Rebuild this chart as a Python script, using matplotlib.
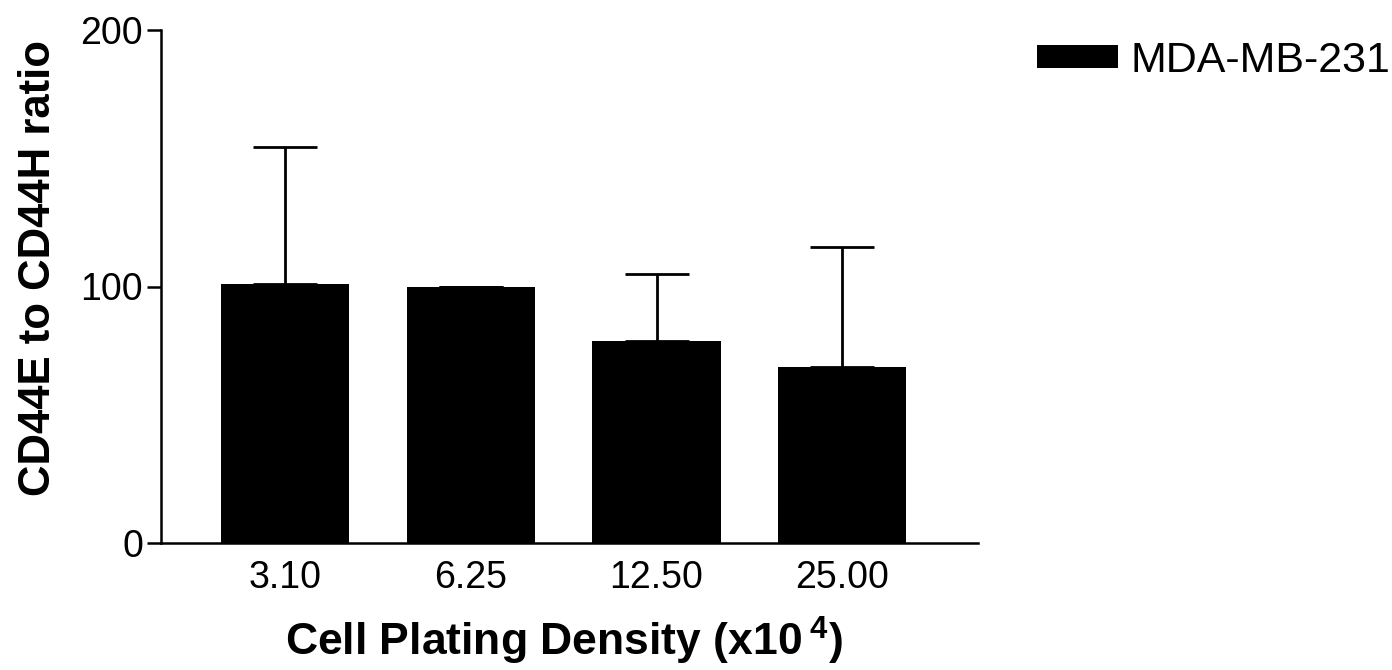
import matplotlib
matplotlib.use("Agg")
import matplotlib.pyplot as plt
import numpy as np

categories = ["3.10", "6.25", "12.50", "25.00"]
means = [100.8, 100.0, 78.8, 68.5]
errors_up = [53.5, 0.0, 26.0, 47.0]
series_name = "MDA-MB-231"

plt.rcParams['font.family'] = ['Liberation Sans', 'DejaVu Sans']
plt.rcParams['mathtext.fontset'] = 'custom'
plt.rcParams['mathtext.rm'] = 'Liberation Sans'
plt.rcParams['mathtext.bf'] = 'Liberation Sans:bold'

fig = plt.figure(figsize=(13.92, 6.70), dpi=100)
ax = fig.add_axes([161/1392, 1 - 543/670, (978 - 161)/1392, (543 - 30)/670])

x = np.arange(len(categories))
yerr = np.array([np.zeros(len(errors_up)), errors_up])
ax.bar(x, means, width=0.69, color='black', label=series_name,
       yerr=yerr, error_kw=dict(ecolor='black', elinewidth=2, capsize=23, capthick=2))

ax.set_xlim(-0.667, 3.73)
ax.set_ylim(0, 200)
ax.set_yticks([0, 100, 200])
ax.set_xticks(x)
ax.set_xticklabels(categories)
ax.tick_params(axis='x', length=0, labelsize=27, pad=12)
ax.tick_params(axis='y', length=10, width=1.8, labelsize=27, pad=3)
for s in ['top', 'right']:
    ax.spines[s].set_visible(False)
for s in ['left', 'bottom']:
    ax.spines[s].set_linewidth(1.8)

ax.set_ylabel("CD44E to CD44H ratio", fontsize=31.5, fontweight='bold', labelpad=15)
ax.yaxis.label.set_y(0.536)
ax.set_xlabel(r"Cell Plating Density (x10$\,^{\mathbf{4}}$)", fontsize=32,
              fontweight='bold', labelpad=14)
ax.xaxis.label.set_x(0.493)

leg = fig.legend(loc='center left', bbox_to_anchor=(1037/1392, 1 - 61/670),
                 frameon=False, fontsize=31, handlelength=1.87, handleheight=0.45,
                 handletextpad=0.3, borderpad=0, borderaxespad=0)

fig.savefig("out.png", dpi=100)
